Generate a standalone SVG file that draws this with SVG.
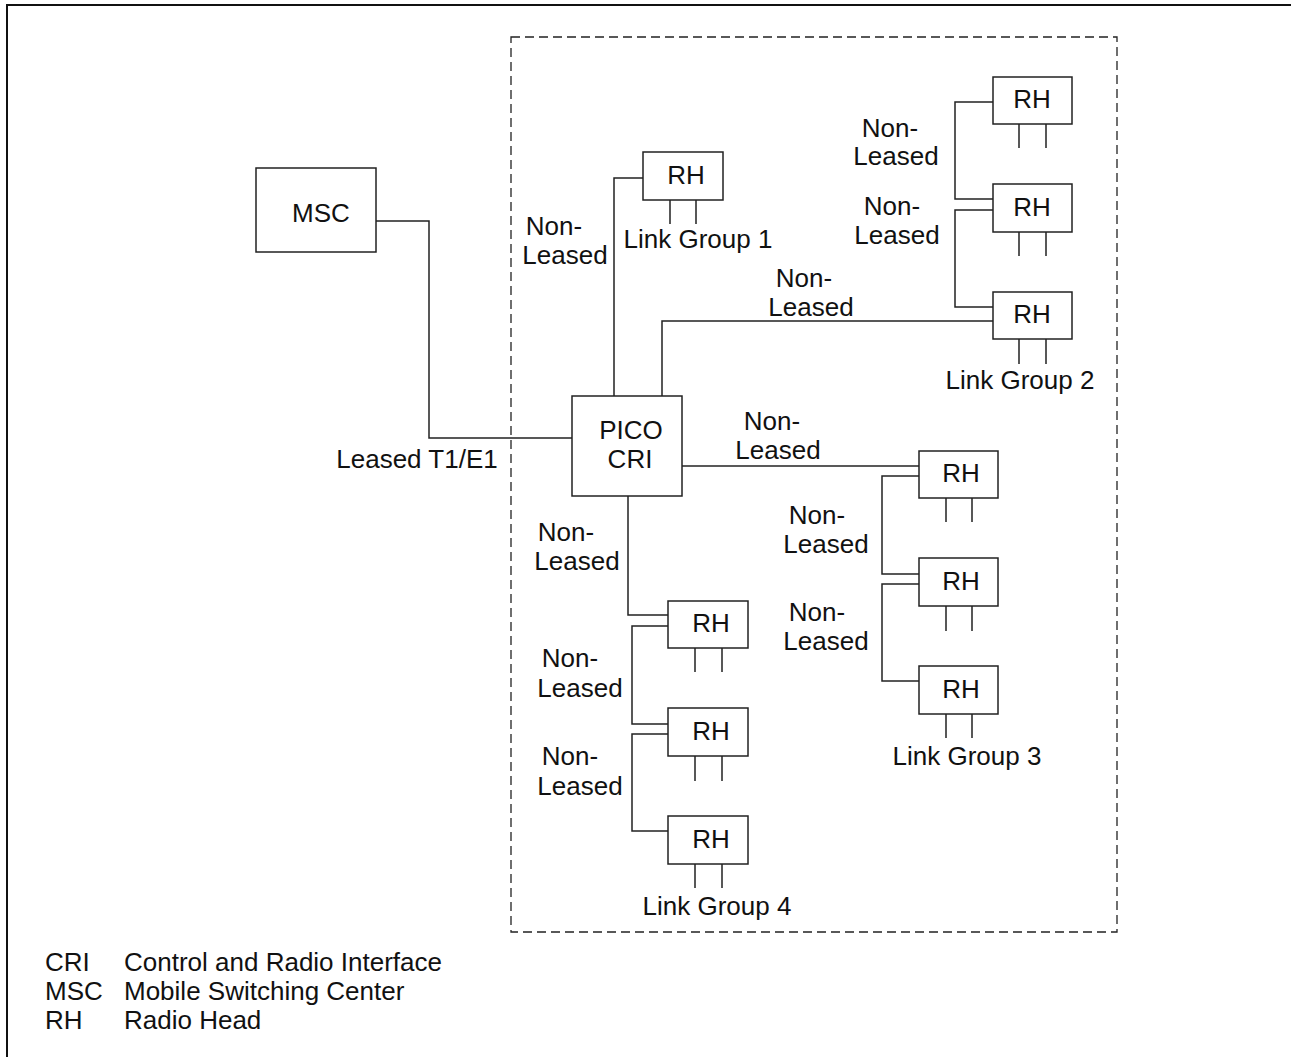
<svg xmlns="http://www.w3.org/2000/svg" width="1291" height="1057" viewBox="0 0 1291 1057">
<style>
.box{fill:#fff;stroke:#222;stroke-width:1.5}
.ln{fill:none;stroke:#222;stroke-width:1.5}
text{font-family:"Liberation Sans",Arial,sans-serif;font-size:26px;fill:#111}
.m{text-anchor:middle}
</style>
<rect x="0" y="0" width="1291" height="1057" fill="#fff"/>
<rect x="7" y="5" width="1300" height="1070" fill="none" stroke="#111" stroke-width="2"/>
<rect x="511" y="37" width="606" height="895" fill="none" stroke="#222" stroke-width="1.3" stroke-dasharray="9,5"/>
<g id="connectors">
<polyline class="ln" points="376,221 429,221 429,438 572,438"/>
<polyline class="ln" points="614,396 614,178 643,178"/>
<polyline class="ln" points="662,396 662,321 993,321"/>
<polyline class="ln" points="993,102 955,102 955,199 993,199"/>
<polyline class="ln" points="993,210 955,210 955,307 993,307"/>
<polyline class="ln" points="682,466 919,466"/>
<polyline class="ln" points="919,476 882,476 882,574 919,574"/>
<polyline class="ln" points="919,584 882,584 882,681 919,681"/>
<polyline class="ln" points="628,496 628,615 668,615"/>
<polyline class="ln" points="668,626 632,626 632,724 668,724"/>
<polyline class="ln" points="668,734 632,734 632,831 668,831"/>
<g id="legs">
<path class="ln" d="M670,200V224M696,200V224"/>
<path class="ln" d="M1019,124V148M1046,124V148M1019,232V256M1046,232V256M1019,339V364M1046,339V364"/>
<path class="ln" d="M946,498V522M972,498V522M946,606V631M972,606V631M946,714V738M972,714V738"/>
<path class="ln" d="M695,648V672M722,648V672M695,756V781M722,756V781M695,864V888M722,864V888"/>
</g>
</g>
<g id="msc"><rect class="box" x="256" y="168" width="120" height="84"/><text class="m" x="321" y="222">MSC</text></g>
<g id="pico"><rect class="box" x="572" y="396" width="110" height="100"/><text class="m" x="631" y="439">PICO</text><text class="m" x="630" y="468">CRI</text></g>
<g id="rh1"><rect class="box" x="643" y="152" width="80" height="48"/><text class="m" x="686" y="184">RH</text></g>
<g id="rh2a"><rect class="box" x="993" y="77" width="79" height="47"/><text class="m" x="1032" y="108">RH</text></g>
<g id="rh2b"><rect class="box" x="993" y="184" width="79" height="48"/><text class="m" x="1032" y="216">RH</text></g>
<g id="rh2c"><rect class="box" x="993" y="292" width="79" height="47"/><text class="m" x="1032" y="323">RH</text></g>
<g id="rh3a"><rect class="box" x="919" y="451" width="79" height="47"/><text class="m" x="961" y="482">RH</text></g>
<g id="rh3b"><rect class="box" x="919" y="558" width="79" height="48"/><text class="m" x="961" y="590">RH</text></g>
<g id="rh3c"><rect class="box" x="919" y="666" width="79" height="48"/><text class="m" x="961" y="698">RH</text></g>
<g id="rh4a"><rect class="box" x="668" y="601" width="80" height="47"/><text class="m" x="711" y="632">RH</text></g>
<g id="rh4b"><rect class="box" x="668" y="708" width="80" height="48"/><text class="m" x="711" y="740">RH</text></g>
<g id="rh4c"><rect class="box" x="668" y="816" width="80" height="48"/><text class="m" x="711" y="848">RH</text></g>
<g id="labels">
<text class="m" x="554" y="235">Non-</text><text class="m" x="565" y="264">Leased</text>
<text class="m" x="890" y="137">Non-</text><text class="m" x="896" y="165">Leased</text>
<text class="m" x="892" y="215">Non-</text><text class="m" x="897" y="244">Leased</text>
<text class="m" x="804" y="287">Non-</text><text class="m" x="811" y="316">Leased</text>
<text class="m" x="772" y="430">Non-</text><text class="m" x="778" y="459">Leased</text>
<text class="m" x="817" y="524">Non-</text><text class="m" x="826" y="553">Leased</text>
<text class="m" x="817" y="621">Non-</text><text class="m" x="826" y="650">Leased</text>
<text class="m" x="566" y="541">Non-</text><text class="m" x="577" y="570">Leased</text>
<text class="m" x="570" y="667">Non-</text><text class="m" x="580" y="697">Leased</text>
<text class="m" x="570" y="765">Non-</text><text class="m" x="580" y="795">Leased</text>
<text class="m" x="417" y="468">Leased T1/E1</text>
<text class="m" x="698" y="248">Link Group 1</text>
<text class="m" x="1020" y="389">Link Group 2</text>
<text class="m" x="967" y="765">Link Group 3</text>
<text class="m" x="717" y="915">Link Group 4</text>
</g>
<g id="legend">
<text x="45" y="971">CRI</text><text x="124" y="971">Control and Radio Interface</text>
<text x="45" y="1000">MSC</text><text x="124" y="1000">Mobile Switching Center</text>
<text x="45" y="1029">RH</text><text x="124" y="1029">Radio Head</text>
</g>
</svg>
